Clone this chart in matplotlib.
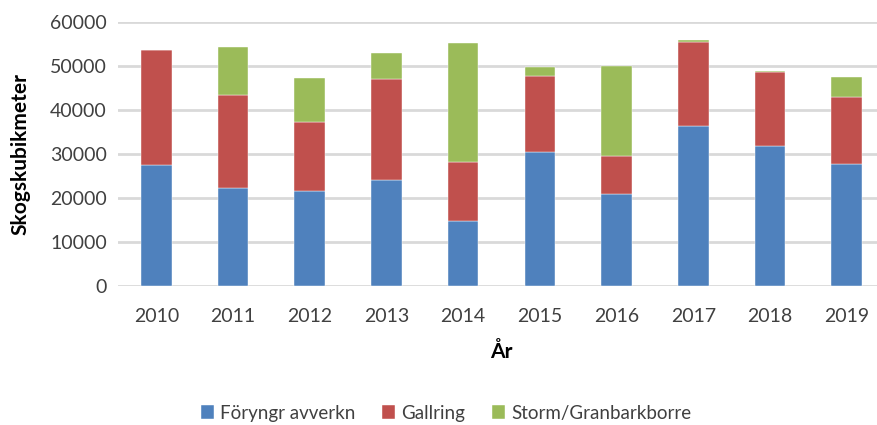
import matplotlib
matplotlib.use("Agg")
import matplotlib.pyplot as plt
import numpy as np

years = ["2010", "2011", "2012", "2013", "2014", "2015", "2016", "2017", "2018", "2019"]
foryngr = [27400, 22300, 21600, 24000, 14700, 30500, 21000, 36400, 31900, 27800]
gallring = [26300, 21100, 15700, 23000, 13400, 17300, 8600, 19100, 16700, 15200]
storm = [0, 11000, 10000, 6000, 27100, 2000, 20400, 400, 150, 4400]
series_names = ["Föryngr avverkn", "Gallring", "Storm/Granbarkborre"]
colors = ["#4F81BD", "#C0504D", "#9BBB59"]

plt.rcParams['font.family'] = ['Lato', 'DejaVu Sans']
fig = plt.figure(figsize=(8.78, 4.25), dpi=100)
ax = fig.add_axes([118/878, 1-286/425, (885-118)/878, (286-22)/425])

x = np.arange(len(years))
w = 0.4
b1 = np.array(foryngr)
b2 = b1 + np.array(gallring)
ax.bar(x, foryngr, w, color=colors[0], label=series_names[0], zorder=3, edgecolor="white", linewidth=0.3)
ax.bar(x, gallring, w, bottom=b1, color=colors[1], label=series_names[1], zorder=3, edgecolor="white", linewidth=0.3)
ax.bar(x, storm, w, bottom=b2, color=colors[2], label=series_names[2], zorder=3, edgecolor="white", linewidth=0.3)

ax.set_xlim(-0.5, len(years) - 0.5)
ax.set_ylim(0, 60000)
ax.set_yticks(np.arange(0, 60001, 10000))
ax.yaxis.grid(True, color="#D9D9D9", linewidth=2, zorder=0)
ax.set_axisbelow(True)
for s in ax.spines.values():
    s.set_visible(False)
ax.tick_params(length=0, labelsize=14, colors="#404040")
ax.tick_params(axis='y', pad=8)
ax.tick_params(axis='x', pad=16)
ax.set_xticks(x)
ax.set_xticklabels(years)
ax.set_ylabel("Skogskubikmeter", fontsize=15, fontweight="bold", labelpad=14)
ax.set_xlabel("År", fontsize=15, fontweight="bold", labelpad=12)

handles, labels = ax.get_legend_handles_labels()
fig.legend(handles, labels, loc="center", bbox_to_anchor=(0.508, 1-413/425), ncol=3,
           frameon=False, fontsize=13.5, handlelength=0.7, handleheight=0.7,
           columnspacing=1.45, handletextpad=0.3, labelcolor="#404040")

fig.savefig("out.png", dpi=100)
